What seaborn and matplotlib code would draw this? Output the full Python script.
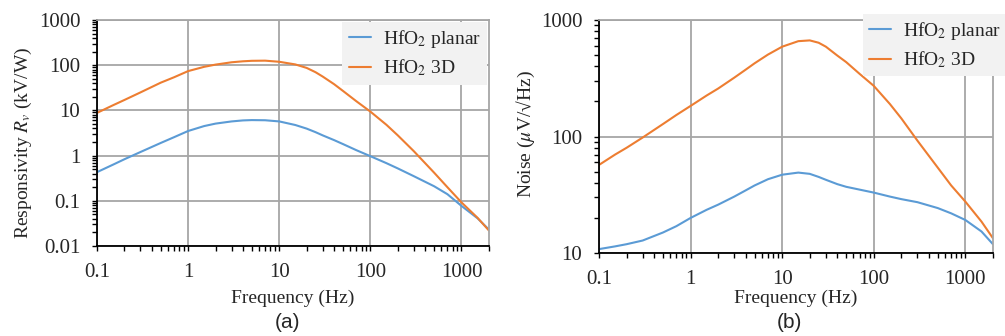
import numpy as np
import pandas as pd
import matplotlib
matplotlib.use('Agg')
import matplotlib.pyplot as plt
import matplotlib.ticker as mtick
import seaborn as sns

sns.set_style('white')
plt.rcParams['font.family'] = ['Liberation Serif', 'DejaVu Serif']
plt.rcParams['mathtext.fontset'] = 'stix'
plt.rcParams['axes.unicode_minus'] = False

# data
freq = [0.1, 0.15, 0.2, 0.3, 0.5, 0.7, 1, 1.5, 2, 3, 4, 5, 7, 10, 15, 20,
        25, 30, 40, 50, 70, 100, 150, 200, 300, 500, 700, 1000, 1500, 2000]

resp_planar = [0.43, 0.63, 0.83, 1.2, 1.9, 2.55, 3.5, 4.5, 5.1, 5.7, 6.0,
               6.1, 6.05, 5.7, 4.75, 3.95, 3.3, 2.8, 2.2, 1.8, 1.32, 0.97,
               0.68, 0.52, 0.35, 0.21, 0.14, 0.077, 0.041, 0.023]
resp_3d = [8.8, 13, 17, 25, 41, 54, 74, 92, 103, 116, 122, 125, 126, 119,
           104, 87, 70, 56, 38, 27, 16, 9.4, 4.8, 2.8, 1.25, 0.42, 0.2,
           0.092, 0.042, 0.022]

noise_planar = [10.8, 11.4, 11.9, 12.8, 15.0, 17.0, 20, 23.5, 26, 30.5, 34.5,
                38, 43, 47, 49, 47.8, 45, 42.5, 39, 37, 35, 33, 30.5, 29,
                27.3, 24.3, 21.9, 19.2, 15.3, 11.9]
noise_3d = [57, 70, 80, 98, 128, 153, 183, 225, 258, 320, 375, 425, 505, 590,
            658, 668, 638, 590, 495, 435, 345, 272, 190, 143, 92, 54, 38,
            27.6, 18.6, 13.4]

series = ['HfO$_2$ planar', 'HfO$_2$ 3D']
colors = ['#5b9bd5', '#ed7d31']


def make_df(a, b):
    return pd.DataFrame({
        'f': freq * 2,
        'v': a + b,
        's': [series[0]] * len(freq) + [series[1]] * len(freq),
    })


def style_ax(ax, ylo, yhi):
    ax.set_xscale('log')
    ax.set_yscale('log')
    ax.set_xlim(0.1, 2000)
    ax.set_ylim(ylo, yhi)
    ax.xaxis.set_major_formatter(mtick.FuncFormatter(lambda x, p: f'{x:g}'))
    ax.yaxis.set_major_formatter(mtick.FuncFormatter(lambda x, p: f'{x:g}'))
    ax.xaxis.set_minor_locator(mtick.LogLocator(base=10, subs=np.arange(2, 10)))
    ax.yaxis.set_minor_locator(mtick.LogLocator(base=10, subs=np.arange(2, 10)))
    ax.xaxis.set_minor_formatter(mtick.NullFormatter())
    ax.yaxis.set_minor_formatter(mtick.NullFormatter())
    ax.grid(True, which='major', color='#a6a6a6', lw=1.3)
    ax.tick_params(which='both', direction='out', length=3.5, width=1,
                   color='black', labelsize=15, pad=8.5, bottom=True, left=True)
    for s in ['left', 'bottom']:
        ax.spines[s].set_color('black')
        ax.spines[s].set_linewidth(1.3)
    for s in ['top', 'right']:
        ax.spines[s].set_color('#a6a6a6')
        ax.spines[s].set_linewidth(1.3)


fig = plt.figure(figsize=(10.05, 3.36), dpi=100)
ax1 = fig.add_axes([0.0965, 0.2679, 0.390, 0.6726])
ax2 = fig.add_axes([0.596, 0.247, 0.392, 0.6935])

sns.lineplot(data=make_df(resp_planar, resp_3d), x='f', y='v', hue='s',
             palette=colors, ax=ax1, lw=1.5)
sns.lineplot(data=make_df(noise_planar, noise_3d), x='f', y='v', hue='s',
             palette=colors, ax=ax2, lw=1.5)

style_ax(ax1, 0.01, 1000)
style_ax(ax2, 10, 1000)
ax1.set_ylabel('Responsivity $R_v$ (kV/W)', fontsize=14)
ax2.set_ylabel('Noise ($\\mu$V/√Hz)', fontsize=14)
ax1.set_xlabel('Frequency (Hz)', fontsize=14)
ax2.set_xlabel('Frequency (Hz)', fontsize=14)
ax1.yaxis.set_label_coords(-0.16, 0.456)
ax2.yaxis.set_label_coords(-0.157, 0.51)
ax1.xaxis.set_label_coords(0.5, -0.195)
ax2.xaxis.set_label_coords(0.5, -0.159)

for ax, anchor in [(ax1, (0.995, 0.991)), (ax2, (1.036, 1.026))]:
    leg = ax.legend(loc='upper right', bbox_to_anchor=anchor, borderaxespad=0,
                    fontsize=14, frameon=True, fancybox=False, handlelength=1.15,
                    handletextpad=0.6, labelspacing=0.38, borderpad=0.32)
    leg.get_frame().set_facecolor('#f2f2f2')
    leg.get_frame().set_edgecolor('none')
    leg.get_frame().set_alpha(1)

fig.text(0.286, 0.039, '(a)', ha='center', va='center', fontsize=15,
         family=['Liberation Sans', 'DejaVu Sans'])
fig.text(0.786, 0.039, '(b)', ha='center', va='center', fontsize=15,
         family=['Liberation Sans', 'DejaVu Sans'])

fig.savefig('out.png', dpi=100)
